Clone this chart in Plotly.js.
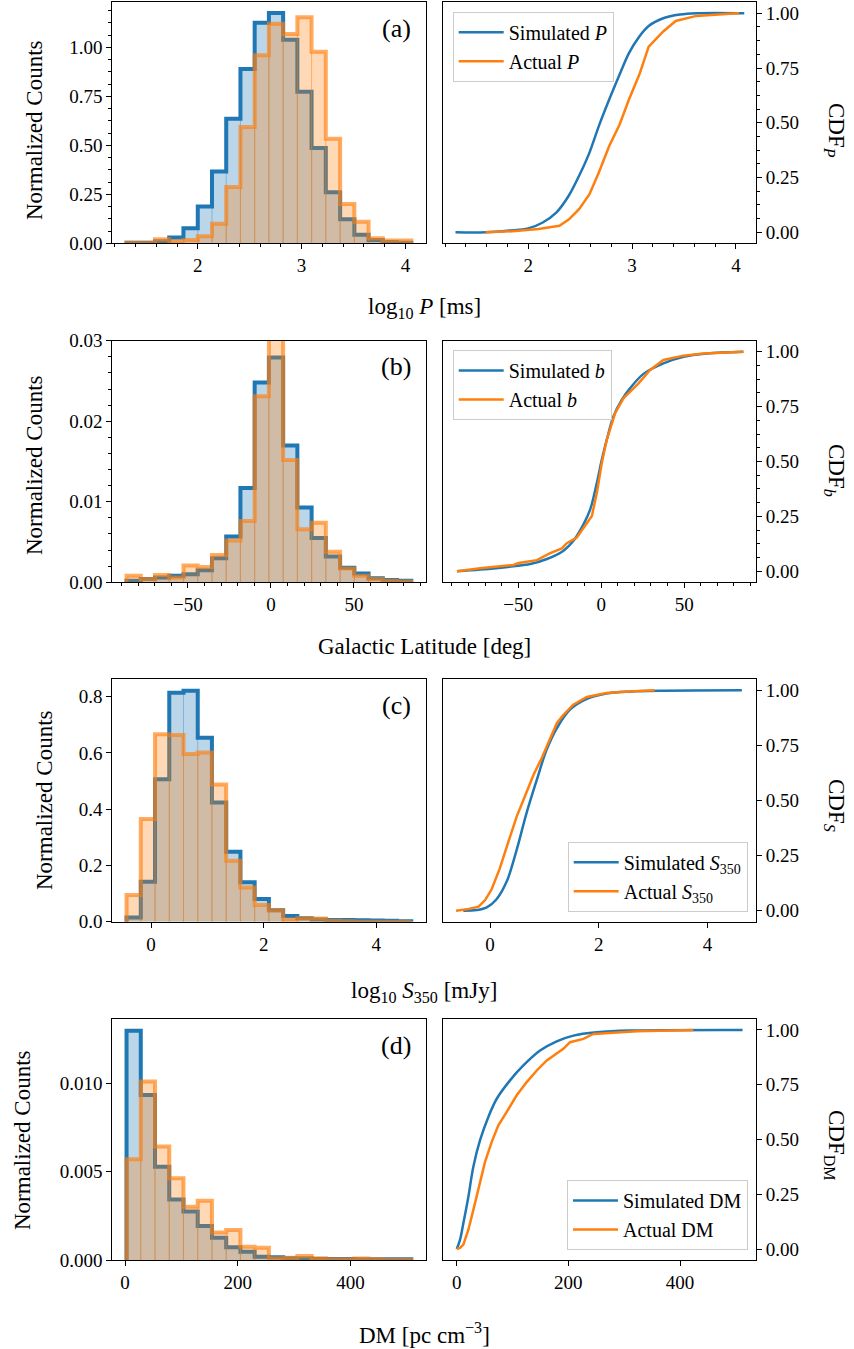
<!DOCTYPE html>
<html><head><meta charset="utf-8">
<script src="https://cdn.plot.ly/plotly-3.0.1.min.js"></script>
<style>body{margin:0;padding:0;background:#fff}#chart{width:854px;height:1349px}</style>
</head><body><div id="chart"></div>
<script>
// ---------- (a) period ----------
const edgesP = [1.314,1.451,1.588,1.725,1.862,2.000,2.137,2.274,2.411,2.548,2.685,2.822,2.959,3.096,3.233,3.371,3.508,3.645,3.782,3.919,4.056];
const simP  = [0.003,0.003,0.010,0.030,0.077,0.188,0.367,0.636,0.889,1.125,1.176,1.039,0.773,0.487,0.260,0.123,0.043,0.017,0.007,0.003];
const actP  = [0.003,0.003,0.021,0.010,0.017,0.036,0.100,0.287,0.593,0.960,1.120,1.068,1.154,0.978,0.533,0.200,0.110,0.026,0.014,0.014];
const cdfSimPx = [1.30,1.59,1.82,2.00,2.14,2.27,2.39,2.49,2.59,2.68,2.78,2.88,2.97,3.07,3.16,3.30,3.46,3.62,4.08];
const cdfSimPy = [0,0,0.008,0.018,0.045,0.09,0.167,0.258,0.364,0.485,0.606,0.72,0.818,0.894,0.942,0.977,0.994,1.0,1.0];
const cdfActPx = [1.59,1.85,2.10,2.30,2.39,2.49,2.59,2.68,2.78,2.88,2.97,3.07,3.16,3.30,3.42,3.62,3.94,4.03];
const cdfActPy = [0,0.005,0.015,0.03,0.058,0.106,0.174,0.273,0.394,0.492,0.606,0.72,0.848,0.917,0.965,0.988,0.998,1.0];

// ---------- (b) galactic latitude ----------
const edgesB = [-87.0,-78.43,-69.85,-61.28,-52.70,-44.13,-35.55,-26.98,-18.40,-9.83,-1.25,7.33,15.90,24.48,33.05,41.63,50.20,58.78,67.35,75.93,84.50];
const simB  = [0.0002,0.0004,0.0006,0.0008,0.0010,0.0015,0.0030,0.0057,0.0117,0.0248,0.0279,0.0170,0.0093,0.0055,0.0032,0.0018,0.0011,0.0005,0.0003,0.0002];
const actB  = [0.0008,0.0004,0.0009,0.0006,0.0021,0.0019,0.0034,0.0052,0.0076,0.0231,0.0340,0.0152,0.0066,0.0074,0.0038,0.0017,0.0008,0.0004,0.0002,0.0001];
const cdfSimBx = [-86.9,-72.9,-52.8,-42.8,-32.7,-22.7,-16.7,-10.6,-6.6,-2.6,0.4,3.4,7.4,12.4,17.5,25.5,37.5,49.6,63.7,85.7];
const cdfSimBy = [0,0.008,0.023,0.033,0.056,0.094,0.139,0.215,0.282,0.403,0.509,0.6,0.705,0.781,0.834,0.899,0.947,0.977,0.992,1.0];
const cdfActBx = [-86.9,-72.9,-52.8,-49.8,-38.7,-30.7,-23.7,-20.7,-14.7,-9.6,-5.6,-2.6,0.4,3.4,8.4,13.5,17.5,22.5,29.5,37.5,49.6,61.7,85.7];
const cdfActBy = [0,0.014,0.029,0.038,0.051,0.083,0.104,0.128,0.154,0.207,0.252,0.358,0.494,0.6,0.72,0.789,0.819,0.856,0.917,0.962,0.982,0.992,1.0];

// ---------- (c) flux density ----------
const edgesS = [-0.436,-0.183,0.070,0.323,0.576,0.829,1.081,1.334,1.587,1.840,2.093,2.346,2.599,2.852,3.105,3.358,3.610,3.863,4.116,4.369,4.622];
const simS  = [0.015,0.142,0.507,0.814,0.821,0.654,0.424,0.249,0.140,0.081,0.041,0.020,0.012,0.008,0.006,0.006,0.005,0.004,0.003,0.002];
const actS  = [0.095,0.365,0.667,0.664,0.596,0.602,0.488,0.217,0.122,0.059,0.041,0.008,0.012,0.011,0.003,0.002,0,0,0,0];
const cdfSimSx = [-0.49,-0.245,-0.06,0.12,0.306,0.49,0.67,0.86,1.04,1.23,1.47,1.78,2.14,2.57,3.19,4.63];
const cdfSimSy = [0,0.003,0.015,0.052,0.132,0.276,0.442,0.594,0.73,0.829,0.912,0.961,0.985,0.994,0.998,1.0];
const cdfActSx = [-0.625,-0.43,-0.21,-0.09,0.03,0.18,0.34,0.49,0.64,0.8,0.95,1.10,1.23,1.35,1.53,1.78,2.14,2.57,3.03];
const cdfActSy = [0,0.006,0.018,0.048,0.097,0.192,0.314,0.427,0.518,0.617,0.692,0.776,0.852,0.889,0.935,0.97,0.988,0.995,1.0];

// ---------- (d) dispersion measure ----------
const edgesDM = [2.7,27.97,53.23,78.50,103.76,129.03,154.29,179.56,204.82,230.09,255.35,280.62,305.88,331.15,356.41,381.68,406.94,432.21,457.47,482.74,508.0];
const simDM = [0.01298,0.00934,0.00528,0.00343,0.00274,0.00192,0.00126,0.00072,0.00047,0.00019,0.00015,0.00010,0.00010,0.00006,0.00006,0.00006,0.00004,0.00004,0.00004,0.00004];
const actDM = [0.00570,0.01010,0.00642,0.00462,0.00302,0.00336,0.00155,0.00170,0.00075,0.00070,0.00010,0.00013,0.00023,0.00010,0.00004,0.00004,0.00008,0.00004,0.00002,0.00002];
const cdfSimDMx = [0,5.9,11.9,20.9,29.8,41.8,56.7,71.7,95.5,119.4,149.3,179.2,209,250.9,310.6,512];
const cdfSimDMy = [0,0.042,0.118,0.239,0.376,0.497,0.603,0.686,0.77,0.838,0.906,0.948,0.974,0.989,0.997,1.0];
const cdfActDMx = [0,5.9,11.9,20.9,29.8,41.8,50.7,62.7,74.6,89.6,107.5,125.4,143.4,161.3,179.2,191,203,226.9,244.8,280.6,322.6,424];
const cdfActDMy = [0,0.005,0.02,0.088,0.179,0.3,0.398,0.489,0.565,0.626,0.702,0.762,0.815,0.861,0.894,0.914,0.944,0.959,0.982,0.988,0.994,1.0];

// ---------- text ----------
const xLabels = ['log<sub>10</sub> <i>P</i> [ms]','Galactic Latitude [deg]','log<sub>10</sub> <i>S</i><sub>350</sub> [mJy]','DM [pc cm<sup>−3</sup>]'];
const cdfLabels = ['CDF<sub><i>P</i></sub>','CDF<sub><i>b</i></sub>','CDF<sub><i>S</i></sub>','CDF<sub>DM</sub>'];
const panelTags = ['(a)','(b)','(c)','(d)'];
const simNames = ['Simulated <i>P</i>','Simulated <i>b</i>','Simulated <i>S</i><sub>350</sub>','Simulated DM'];
const actNames = ['Actual <i>P</i>','Actual <i>b</i>','Actual <i>S</i><sub>350</sub>','Actual DM'];

// ---------- drawing ----------
const W=854,H=1349;
const px=x=>x/W, py=y=>1-y/H;
const FONT='Liberation Serif';
const BLUE='31,119,180', ORANGE='255,127,14';

const traces=[];
function histTraces(edges,h,xa,ya,rgb,lineAlpha,edgeAlpha){
  const n=h.length;
  const sx=[edges[0]], sy=[0];
  for(let i=0;i<n;i++){sx.push(edges[i]);sy.push(h[i]);}
  sx.push(edges[n]);sy.push(h[n-1]);
  sx.push(edges[n]);sy.push(0);
  traces.push({type:'scatter',mode:'lines',x:sx,y:sy,xaxis:xa,yaxis:ya,fill:'toself',
    fillcolor:'rgba('+rgb+',0.3)',line:{width:0,shape:'hv'},showlegend:false,hoverinfo:'skip'});
  const ex=[],ey=[];
  for(let i=1;i<n;i++){ex.push(edges[i],edges[i],null);ey.push(0,Math.min(h[i-1],h[i]),null);}
  traces.push({type:'scatter',mode:'lines',x:ex,y:ey,xaxis:xa,yaxis:ya,
    line:{width:1,color:'rgba('+rgb+','+edgeAlpha+')'},showlegend:false,hoverinfo:'skip'});
  traces.push({type:'scatter',mode:'lines',x:sx,y:sy,xaxis:xa,yaxis:ya,
    line:{width:4,shape:'hv',color:'rgba('+rgb+','+lineAlpha+')'},showlegend:false,hoverinfo:'skip'});
}
const panels=[
  {edges:edgesP,sim:simP,act:actP,cs:[cdfSimPx,cdfSimPy],ca:[cdfActPx,cdfActPy]},
  {edges:edgesB,sim:simB,act:actB,cs:[cdfSimBx,cdfSimBy],ca:[cdfActBx,cdfActBy]},
  {edges:edgesS,sim:simS,act:actS,cs:[cdfSimSx,cdfSimSy],ca:[cdfActSx,cdfActSy]},
  {edges:edgesDM,sim:simDM,act:actDM,cs:[cdfSimDMx,cdfSimDMy],ca:[cdfActDMx,cdfActDMy]}
];
const legNames=['legend','legend2','legend3','legend4'];
panels.forEach((p,r)=>{
  const hx='x'+(r*2+1===1?'':(r*2+1)), hy='y'+(r*2+1===1?'':(r*2+1));
  const cx='x'+(r*2+2), cy='y'+(r*2+2);
  histTraces(p.edges,p.sim,hx,hy,BLUE,1,0.35);
  histTraces(p.edges,p.act,hx,hy,ORANGE,0.65,0.5);
  traces.push({type:'scatter',mode:'lines',x:p.cs[0],y:p.cs[1],xaxis:cx,yaxis:cy,name:simNames[r],
    legend:legNames[r],line:{color:'rgb('+BLUE+')',width:2.5,shape:'spline',smoothing:1},hoverinfo:'skip'});
  traces.push({type:'scatter',mode:'lines',x:p.ca[0],y:p.ca[1],xaxis:cx,yaxis:cy,name:actNames[r],
    legend:legNames[r],line:{color:'rgb('+ORANGE+')',width:2.5},hoverinfo:'skip'});
});

const rows=[[2.3,243.3],[340.7,582.3],[679.3,921.7],[1019,1260]];
const colL=[112.3,425.5], colR=[442.7,756];
const axCfg=[
  {hx:[1.177,4.193],hxd:1,hxm:0.2,hy:[0,1.23],hyd:0.25,hyf:'.2f',hym:0.0625,cx:[1.177,4.193],cym:0.0625},
  {hx:[-95.575,93.075],hxd:50,hxm:10,hy:[0,0.03000001],hyd:0.01,hyf:'.2f',hym:0.002,cx:[-95.5,93.3],cym:0.0625},
  {hx:[-0.689,4.875],hxd:2,hxm:null,hy:[0,0.862],hyd:0.2,hyf:'.1f',hym:null,cx:[-0.87,4.89],cym:null},
  {hx:[-22.57,533.27],hxd:200,hxm:null,hy:[0,0.01364],hyd:0.005,hyf:'.3f',hym:null,cx:[-25.1,536.1],cym:null}
];
const tickFont={family:FONT,size:19,color:'#000'};
function baseAx(o){
  const a=Object.assign({showline:true,mirror:true,linecolor:'#000',linewidth:1,ticks:'outside',ticklen:5,tickwidth:1,
    tickcolor:'#000',showgrid:false,zeroline:false,tickfont:tickFont,fixedrange:true,tick0:0},o);
  if(o.minorD){a.minor={ticks:'outside',dtick:o.minorD,ticklen:3,tickwidth:1,tickcolor:'#000',showgrid:false};}
  delete a.minorD;
  return a;
}
const layout={width:W,height:H,margin:{l:0,r:0,t:0,b:0},paper_bgcolor:'#fff',plot_bgcolor:'#fff',
  showlegend:true,hovermode:false,annotations:[]};
rows.forEach((rw,r)=>{
  const c=axCfg[r];
  const yd=[py(rw[1]),py(rw[0])];
  const i1=r*2+1,i2=r*2+2;
  const k1=i1===1?'':i1;
  layout['xaxis'+k1]=baseAx({domain:[px(colL[0]),px(colL[1])],range:c.hx,dtick:c.hxd,anchor:'y'+k1,minorD:c.hxm});
  layout['yaxis'+k1]=baseAx({domain:yd,range:c.hy,dtick:c.hyd,tickformat:c.hyf,anchor:'x'+k1,minorD:c.hym});
  layout['xaxis'+i2]=baseAx({domain:[px(colR[0]),px(colR[1])],range:c.cx,dtick:c.hxd,anchor:'y'+i2,minorD:c.hxm});
  layout['yaxis'+i2]=baseAx({domain:yd,range:[-0.05,1.05],dtick:0.25,tickformat:'.2f',side:'right',anchor:'x'+i2,minorD:c.cym});
  layout.annotations.push({xref:'paper',yref:'paper',x:px(396),y:py(rw[0]+26),text:panelTags[r],showarrow:false,
    xanchor:'center',yanchor:'middle',font:{family:FONT,size:26,color:'#000'}});
});
const xLabY=[308,646,992,1333];
const nLabX=[34,34,44,22], nLabY=[130,465,800,1140];
const cLabY=[130,470,805,1145];
for(let r=0;r<4;r++){
  layout.annotations.push({xref:'paper',yref:'paper',x:px(424),y:py(xLabY[r]),text:xLabels[r],showarrow:false,
    xanchor:'center',yanchor:'middle',font:{family:FONT,size:23,color:'#000'}});
  layout.annotations.push({xref:'paper',yref:'paper',x:px(nLabX[r]),y:py(nLabY[r]),text:'Normalized Counts',textangle:-90,
    showarrow:false,xanchor:'center',yanchor:'middle',font:{family:FONT,size:23,color:'#000'}});
  layout.annotations.push({xref:'paper',yref:'paper',x:px(835),y:py(cLabY[r]),text:cdfLabels[r],textangle:90,
    showarrow:false,xanchor:'center',yanchor:'middle',font:{family:FONT,size:23,color:'#000'}});
}
const legBase={bgcolor:'rgba(255,255,255,0.8)',bordercolor:'#cccccc',borderwidth:1,font:{family:FONT,size:20,color:'#000'},
  itemwidth:45,tracegroupgap:0,orientation:'v'};
layout.legend=Object.assign({},legBase,{x:px(452.7),y:py(11.7),xanchor:'left',yanchor:'top'});
layout.legend2=Object.assign({},legBase,{x:px(452.7),y:py(350),xanchor:'left',yanchor:'top'});
layout.legend3=Object.assign({},legBase,{x:px(747.7),y:py(911.7),xanchor:'right',yanchor:'bottom'});
layout.legend4=Object.assign({},legBase,{x:px(748),y:py(1250),xanchor:'right',yanchor:'bottom'});

Plotly.newPlot('chart',traces,layout,{staticPlot:true,displayModeBar:false});
</script></body></html>
